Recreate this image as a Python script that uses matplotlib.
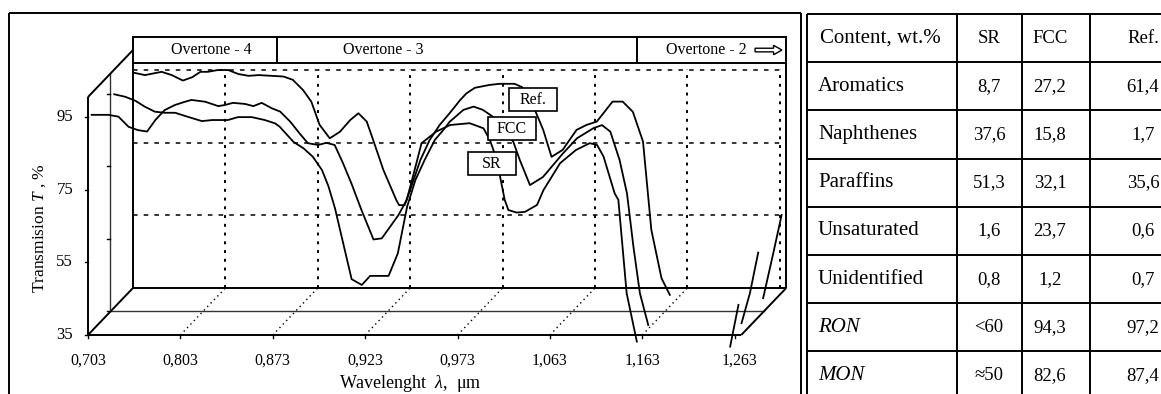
import numpy as np
import matplotlib.pyplot as plt
from matplotlib.patches import Rectangle, FancyArrow

plt.rcParams['font.family'] = ['Liberation Serif', 'DejaVu Serif']
plt.rcParams['mathtext.fontset'] = 'custom'
plt.rcParams['mathtext.rm'] = 'Liberation Serif'
plt.rcParams['mathtext.it'] = 'Liberation Serif:italic'

# category axis (wavelength, um) and transmission ticks
wl_labels = ['0,703', '0,803', '0,873', '0,923', '0,973', '1,063', '1,163', '1,263']
t_ticks = [35, 55, 75, 95]
bands = ['Overtone - 4', 'Overtone - 3', 'Overtone - 2']

# spectra: position on category axis, transmission %
sr_x = [0.04, 0.22, 0.33, 0.44, 0.54, 0.64, 0.73, 0.83, 0.94, 1.05, 1.12, 1.27, 1.41, 1.48,
        1.57, 1.70, 1.79, 1.88, 1.99, 2.08, 2.19, 2.29, 2.38, 2.49, 2.58, 2.67, 2.76, 2.85,
        2.96, 3.09, 3.18, 3.36, 3.45, 3.53, 3.61, 3.77, 3.92, 4.13, 4.28, 4.35, 4.40, 4.46,
        4.51, 4.55, 4.64, 4.73, 4.86, 4.93, 5.11, 5.28, 5.43, 5.51, 5.58, 5.70, 5.74, 5.83,
        5.94, np.nan, 6.95, 7.04]
sr_t = [95.6, 95.6, 95.1, 92.3, 91.4, 91.0, 94.2, 96.9, 98.3, 99.2, 99.7, 99.2, 98.0, 98.3,
        98.9, 98.6, 98.0, 98.9, 97.4, 96.5, 93.7, 90.5, 87.8, 87.3, 87.9, 87.3, 82.3, 76.8,
        69.4, 61.3, 61.6, 68.0, 72.2, 79.9, 87.8, 91.0, 92.8, 93.3, 91.9, 88.7, 85.0, 78.6,
        72.2, 69.4, 68.7, 68.9, 70.8, 74.9, 82.3, 85.9, 87.8, 87.3, 84.1, 74.0, 72.2, 46.5,
        33.2, np.nan, 31.8, 43.3]

fcc_x = [0.04, 0.16, 0.27, 0.37, 0.48, 0.59, 0.70, 0.81, 0.99, 1.10, 1.27, 1.38, 1.53, 1.67,
         1.78, 1.83, 1.98, 2.09, 2.19, 2.29, 2.36, 2.43, 2.61, 2.72, 2.81, 3.01, 3.11, 3.21,
         3.30, 3.40, 3.51, 3.62, 3.67, 3.82, 3.93, 4.03, 4.14, 4.25, 4.36, 4.43, 4.54, 4.68,
         4.90, 5.05, 5.23, 5.32, 5.41, 5.51, 5.59, 5.66, 5.73, 5.82, np.nan, 6.83, 6.92, 7.01]
fcc_t = [94.8, 94.1, 93.0, 91.4, 90.0, 89.7, 89.7, 88.8, 87.4, 87.7, 87.7, 88.5, 88.5, 87.7,
         86.8, 85.9, 81.7, 79.9, 77.6, 73.9, 69.4, 63.4, 43.9, 42.3, 44.8, 44.8, 51.0, 63.8,
         71.2, 76.7, 82.2, 85.5, 87.2, 90.5, 91.4, 90.5, 88.6, 85.5, 81.7, 76.7, 69.8, 72.0,
         78.6, 82.7, 85.5, 86.3, 84.5, 76.7, 67.5, 52.8, 40.0, 31.3, np.nan, 31.8, 40.0, 51.2]

ref_x = [0.00, 0.13, 0.31, 0.42, 0.54, 0.64, 0.73, 0.81, 0.92, 1.03, 1.14, 1.25, 1.36, 1.50,
         1.63, 1.73, 1.84, 1.93, 2.02, 2.13, 2.24, 2.35, 2.44, 2.53, 2.60, 2.71, 2.85, 2.88,
         2.94, 3.00, 3.11, 3.21, 3.32, 3.43, 3.54, 3.61, 3.70, 3.86, 3.97, 4.13, 4.21, 4.30,
         4.35, 4.44, 4.53, 4.65, 4.80, 4.91, 5.02, 5.19, 5.30, 5.41, 5.52, 5.61, 5.72, 5.81,
         np.nan, 6.82, 6.93, 7.02]
ref_t = [94.3, 93.6, 94.5, 93.6, 92.1, 93.0, 94.5, 94.5, 95.0, 95.0, 93.9, 93.4, 93.6, 93.4,
         93.2, 92.3, 89.5, 86.3, 79.9, 76.2, 78.0, 81.2, 83.1, 80.8, 75.7, 67.5, 59.2, 57.8,
         57.8, 62.0, 70.2, 75.7, 79.9, 83.2, 86.7, 88.6, 90.1, 90.9, 91.2, 91.2, 90.3, 86.7,
         84.0, 78.5, 71.1, 73.0, 78.5, 79.9, 80.8, 86.3, 86.3, 83.5, 75.3, 51.0, 37.7, 33.1,
         np.nan, 32.2, 44.6, 55.1]

# composition table
tab_header = ['Content, wt.%', 'SR', 'FCC', 'Ref.']
tab_rows = ['Aromatics', 'Naphthenes', 'Paraffins', 'Unsaturated', 'Unidentified', 'RON', 'MON']
tab_sr = ['8,7', '37,6', '51,3', '1,6', '0,8', '<60', '≈50']
tab_fcc = ['27,2', '15,8', '32,1', '23,7', '1,2', '94,3', '82,6']
tab_ref = ['61,4', '1,7', '35,6', '0,6', '0,7', '97,2', '87,4']

# pseudo-3D geometry (depth shift of the back plane in data units)
DX, DY = 0.487, 12.94
XEND = 7.07
FLOOR, TOP = 35, 100.5

fig = plt.figure(figsize=(11.61, 3.94), dpi=100)
bg = fig.add_axes([0, 0, 1, 1])
bg.set_xlim(0, 1161)
bg.set_ylim(394, 0)
bg.axis('off')

ax = fig.add_axes([0, 0, 800 / 1161, 1])
ax.set_xlim(-0.952, 7.706)
ax.set_ylim(18.76, 127.21)
ax.axis('off')

k = dict(color='black', lw=1.4, solid_capstyle='butt')

# panel frame
bg.plot([9, 801], [13, 13], **k)
bg.plot([9, 9], [13, 394], **k)
bg.plot([801, 801], [13, 394], **k)

# floor
ax.plot([0, XEND], [FLOOR, FLOOR], **k)
ax.plot([DX / 2, XEND + DX / 2], [FLOOR + DY / 2] * 2, color='#333333', lw=1.0)
ax.plot([DX, XEND + DX], [FLOOR + DY] * 2, **k)
ax.plot([0, DX], [FLOOR, FLOOR + DY], **k)
ax.plot([XEND, XEND + DX], [FLOOR, FLOOR + DY], **k)
for i in range(1, 7):
    ax.plot([i, i + DX], [FLOOR, FLOOR + DY], color='black', lw=1.0, ls=(0, (1, 2.5)))
for i in range(len(wl_labels)):
    ax.plot([i, i], [FLOOR, FLOOR - 0.8], color='black', lw=1.0)
    ax.text(i if i < 7 else 7.05, 28.0, wl_labels[i], ha='center', va='center', fontsize=11.5)

# band with overtone labels
band_lo, band_hi = 109.87, 117.0
ax.add_patch(Rectangle((DX, band_lo), XEND, band_hi - band_lo, fc='white', ec='black', lw=1.4, zorder=3))
for bx in [2.045, 5.94]:
    ax.plot([bx, bx], [band_lo, band_hi], zorder=4, **k)
ty = (band_lo + band_hi) / 2
ax.text(1.34, ty, bands[0], ha='center', va='center', fontsize=11.5, zorder=5)
ax.text(2.76, ty, bands[1], ha='left', va='center', fontsize=11.5, zorder=5)
ax.text(6.26, ty, bands[2], ha='left', va='center', fontsize=11.5, zorder=5)
ax.add_patch(FancyArrow(7.22, ty, 0.29, 0, width=1.0, head_width=2.6, head_length=0.09,
                        length_includes_head=True, fc='white', ec='black', lw=1.0, zorder=5))

# back wall
ax.plot([DX, DX], [FLOOR + DY, band_lo], **k)
ax.plot([XEND + DX, XEND + DX], [FLOOR + DY, band_lo], **k)
for t in t_ticks[1:]:
    ax.plot([DX, XEND + DX], [t + DY] * 2, color='black', lw=1.1, ls=(0, (3, 4)))
for i in range(1, 8):
    ax.plot([i + DX] * 2, [FLOOR + DY, 95 + DY + 0.3], color='black', lw=1.4, ls=(0, (1.5, 3)))

# front and middle value axes
ax.plot([0, 0], [FLOOR, TOP], **k)
ax.plot([DX / 2, DX / 2], [FLOOR + DY / 2, TOP + DY / 2], color='#333333', lw=1.0)
ax.plot([0, DX], [TOP, TOP + DY], **k)
for t in t_ticks:
    ax.plot([-0.035, 0], [t, t], color='black', lw=1.0)
    ax.plot([DX / 2 - 0.035, DX / 2], [t + DY / 2] * 2, color='black', lw=1.0)
    ax.text(-0.16, t, str(t), ha='right', va='center', fontsize=12)

# spectra, one per depth plane
series = [(sr_x, sr_t, 0.0, 'SR', (4.37, 82.2)),
          (fcc_x, fcc_t, 0.5, 'FCC', (4.585, 91.8)),
          (ref_x, ref_t, 1.0, 'Ref.', (4.82, 99.8))]
for xs, ts, d, name, (lx, ly) in series:
    ax.plot(np.array(xs) + d * DX, np.array(ts) + d * DY, color='black', lw=1.3, zorder=6)
    ax.add_patch(Rectangle((lx - 0.26, ly - 3.1), 0.52, 6.2, fc='white', ec='black', lw=1.2, zorder=7))
    ax.text(lx, ly, name, ha='center', va='center', fontsize=11.5, zorder=8)

ax.text(-0.52, 64.5, 'Transmision $T$ , %', rotation=90, ha='center', va='center', fontsize=12.5)
ax.text(3.485, 21.6, 'Wavelenght  $λ$,  μm', ha='center', va='center', fontsize=13)

# table
col_x = [807, 957, 1022, 1090]
row_y = [14 + 48.2 * r for r in range(9)]
for cx in col_x:
    bg.plot([cx, cx], [row_y[0], 394], **k)
for ry in row_y:
    bg.plot([col_x[0], 1161], [ry, ry], **k)
cen = [989, 1050, 1143]
mid = [(row_y[r] + row_y[r + 1]) / 2 for r in range(8)]
bg.text(820, mid[0], tab_header[0], ha='left', va='center', fontsize=15)
for c, h in enumerate(tab_header[1:]):
    bg.text(cen[c], mid[0], h, ha='center', va='center', fontsize=13.5)
for r, name in enumerate(tab_rows):
    style = 'italic' if name in ('RON', 'MON') else 'normal'
    bg.text(818, mid[r + 1], name, ha='left', va='center', fontsize=15, style=style)
    for c, vals in enumerate([tab_sr, tab_fcc, tab_ref]):
        bg.text(cen[c], mid[r + 1], vals[r], ha='center', va='center', fontsize=13.5)

fig.savefig('out.png', dpi=100)
